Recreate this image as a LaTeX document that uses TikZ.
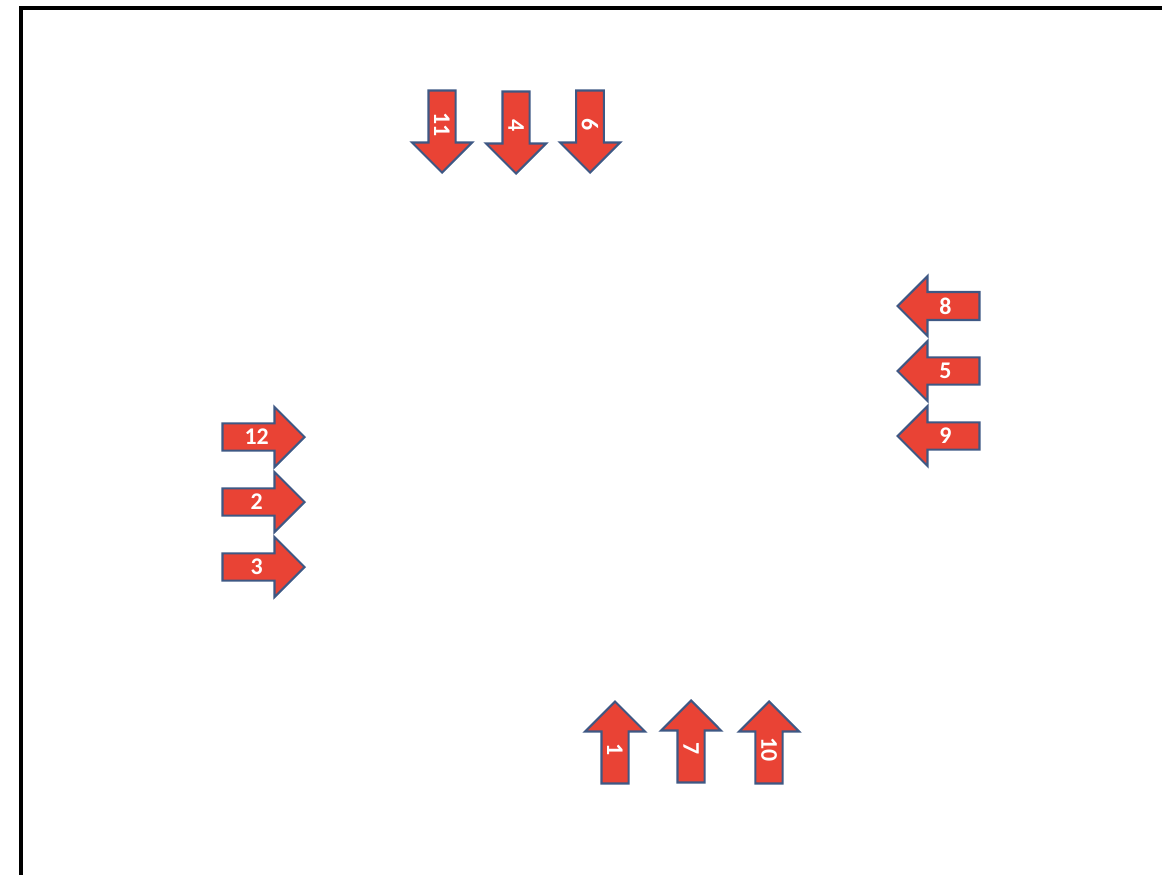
\documentclass[tikz,border=0pt]{standalone}
\usepackage{fontspec}
\setmainfont{Carlito}
\usetikzlibrary{shapes.arrows}
\definecolor{arrowRed}{RGB}{233,67,53}
\definecolor{arrowEdge}{RGB}{62,88,132}

\begin{document}
\begin{tikzpicture}[x=0.025cm,y=-0.025cm,
  bigArrow/.style={single arrow,draw=arrowEdge,fill=arrowRed,line width=1.5pt,
    minimum height=2.05cm,minimum width=1.5cm,single arrow head extend=0.31cm,
    inner sep=1pt,text=white,font=\fontsize{17}{17}\selectfont\bfseries,anchor=tip},
  toRight/.style={bigArrow},
  toLeft/.style={bigArrow,shape border rotate=180},
  toDown/.style={bigArrow,rotate=-90},
  toUp/.style={bigArrow,shape border rotate=180,rotate=-90}]
\useasboundingbox (0,0) rectangle (1162,874);
\draw[line width=2.2pt] (21,890) -- (21,8) -- (1180,8);

\node[toDown] (arrow11) at (442,174) {11};
\node[toDown] (arrow4) at (516,175) {4};
\node[toDown] (arrow6) at (590,174) {6};

\node[toLeft] (arrow8) at (896,306) {8};
\node[toLeft] (arrow5) at (896,371) {5};
\node[toLeft] (arrow9) at (896,436) {9};

\node[toRight] (arrow12) at (306,437) {12};
\node[toRight] (arrow2) at (306,502) {2};
\node[toRight] (arrow3) at (306,567) {3};

\node[toUp] (arrow1) at (615,700) {1};
\node[toUp] (arrow7) at (691,699) {7};
\node[toUp] (arrow10) at (769,700) {10};
\end{tikzpicture}
\end{document}
